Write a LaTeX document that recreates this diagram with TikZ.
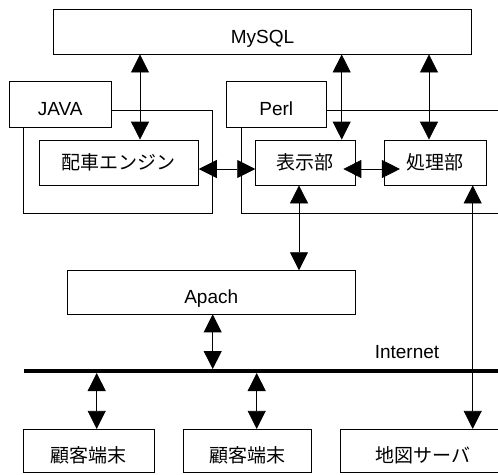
\documentclass[tikz,border=0pt]{standalone}
\usepackage{fontspec}
\setmainfont{Liberation Sans}
\newfontfamily\jpfont{Noto Sans CJK JP}
\usetikzlibrary{arrows.meta}

\tikzset{
  box/.style={draw, line width=0.8pt, fill=white, inner sep=0pt, minimum height=45pt,
    text height=23pt, text depth=0pt, font=\fontsize{19}{21}\selectfont},
  jbox/.style={draw, line width=0.8pt, fill=white, inner sep=0pt, minimum height=45pt,
    font=\jpfont\fontsize{19}{21}\selectfont},
  dbl/.style={line width=0.8pt, {Triangle[length=18pt,width=18pt]}-{Triangle[length=18pt,width=18pt]}},
}

\begin{document}
\begin{tikzpicture}[x=1pt,y=-1pt]
    \useasboundingbox (0,0) rectangle (498,474);
    \clip (0,0) rectangle (498,474);
    % groups
    \draw [line width=0.8pt] (23.3,110.7) rectangle (212.3,213.3);
    \draw [line width=0.8pt] (241,110.7) rectangle (530,213.3);
    \node [box, minimum width=418.4pt, minimum height=44.7pt] (mysql) at (262.5,31.7) {MySQL};
    \node [box, minimum width=101.7pt, minimum height=46pt] (java) at (60.2,104) {JAVA};
    \node [box, minimum width=99.3pt, minimum height=46pt] (perl) at (276.3,104) {Perl};
    \node [jbox, minimum width=159.3pt] (haisha) at (118.7,162.5) {配車エンジン};
    \node [jbox, minimum width=99.3pt] (hyouji) at (305.3,162.5) {表示部};
    \node [jbox, minimum width=101.7pt] (shori) at (435.2,162.5) {処理部};
    \node [box, minimum width=287.7pt, minimum height=43.3pt] (apache) at (211.2,292.3) {Apach};
    % internet
    \coordinate (netL) at (24,371);
    \coordinate (netR) at (520,371);
    \coordinate (netT) at (24,369);
    \coordinate (netB) at (24,373);
    \draw [line width=4pt] (netL) -- (netR);
    \node [font=\fontsize{19}{21}\selectfont] (netlabel) at (407,352) {Internet};
    \foreach \name/\x/\w/\txt in {client1/88.8/131/顧客端末, client2/247.5/128.4/顧客端末, map/423/164.6/地図サーバ}
    {
    \node [jbox, minimum width=\w pt, minimum height=43pt, text height=22.4pt, text depth=0pt] (\name) at (\x,450.8) {\txt};
    }
    % connectors
    \coordinate (a1) at ([xshift=21.3pt]haisha.north);
    \coordinate (a2) at ([xshift=36.4pt]hyouji.north);
    \coordinate (a3) at ([xshift=-6.2pt]shori.north);
    \coordinate (a4) at ([xshift=-6.3pt]hyouji.south);
    \coordinate (a5) at ([xshift=37.5pt]shori.south);
    \coordinate (c1) at ([xshift=7.9pt]client1.north);
    \coordinate (c2) at ([xshift=9.2pt]client2.north);
    \draw [dbl] (a1) -- (a1 |- mysql.south);
    \draw [dbl] (a2) -- (a2 |- mysql.south);
    \draw [dbl] (a3) -- (a3 |- mysql.south);
    \draw [dbl] ([yshift=-6.5pt]haisha.east) -- ([yshift=-6.5pt]hyouji.west);
    \draw [dbl] ([shift={(-12,6.5)}]hyouji.east) -- ([shift={(16,6.5)}]shori.west);
    \draw [dbl] (a4) -- (a4 |- apache.north);
    \draw [dbl] (a5) -- (a5 |- map.north);
    \draw [dbl] ([xshift=1.5pt]apache.south) -- ([xshift=1.5pt]apache.south |- netT);
    \draw [dbl] (c1) -- (c1 |- netB);
    \draw [dbl] (c2) -- (c2 |- netB);
\end{tikzpicture}
\end{document}
